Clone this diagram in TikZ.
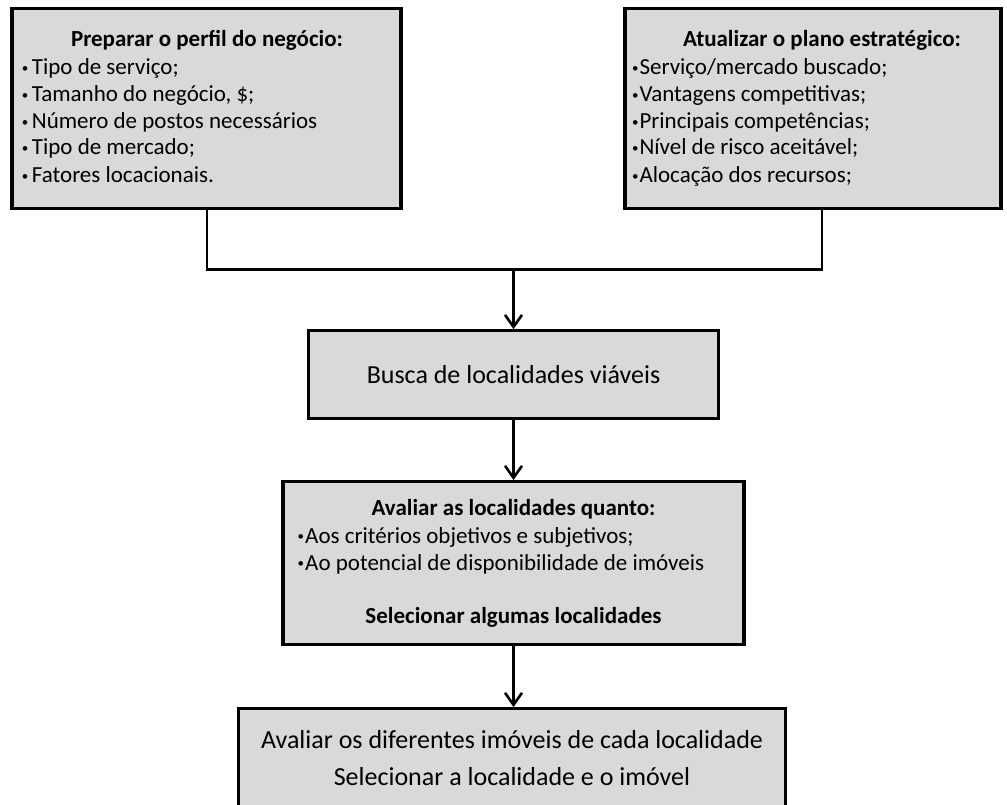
\documentclass[tikz,border=0pt]{standalone}
\usepackage{fontspec}
\setmainfont{Carlito}
\usetikzlibrary{arrows.meta}
\definecolor{boxgray}{HTML}{D9D9D9}
% small bullet set to the left of the item text; #1 is the gap before the text
\newcommand\itembullet[1]{\llap{\raisebox{2.2pt}{\fontsize{13}{13}\selectfont •}\hspace{#1}}}
\begin{document}
\begin{tikzpicture}[x=1pt,y=-1pt,
  box/.style={draw=black,fill=boxgray,line width=3.3pt,inner sep=0pt},
  link/.style={line width=2.6pt},
  flow/.style={link,-{Straight Barb[length=12pt,width=17pt]}},
  item/.style={anchor=base west,inner sep=0pt,font=\fontsize{23}{27}\selectfont},
  head/.style={anchor=base,inner sep=0pt,font=\fontsize{23}{27}\selectfont\bfseries},
  big/.style={anchor=base,inner sep=0pt,font=\fontsize{26}{31}\selectfont}]
\useasboundingbox (0,0) rectangle (1007,805);
\clip (0,0) rectangle (1007,805);

% boxes
\node[box,minimum width=389pt,minimum height=200pt] (perfil) at (206.5,108.3) {};
\node[box,minimum width=376pt,minimum height=200pt] (plano) at (813,108.3) {};
\node[box,minimum width=410pt,minimum height=88pt] (busca) at (513.5,374.8) {};
\node[box,minimum width=461pt,minimum height=163pt] (avaliar) at (513.5,563.2) {};
\node[box,minimum width=547pt,minimum height=130pt] (imovel) at (512,773.7) {};

% text of the left box
\node[head] (t1) at (207,46.7) {Preparar o perfil do negócio:};
\node[item] (l1) at (31.7,75) {\itembullet{3.5pt}Tipo de serviço;};
\node[item] (l2) at (31.7,101.7) {\itembullet{3.5pt}Tamanho do negócio, \$;};
\node[item] (l3) at (31.7,128.3) {\itembullet{3.5pt}Número de postos necessários};
\node[item] (l4) at (31.7,155) {\itembullet{3.5pt}Tipo de mercado;};
\node[item] (l5) at (31.7,182.7) {\itembullet{3.5pt}Fatores locacionais.};

% text of the right box
\node[head] (t2) at (822,46.7) {Atualizar o plano estratégico:};
\node[item] (r1) at (639.3,75) {\itembullet{1pt}Serviço/mercado buscado;};
\node[item] (r2) at (639.3,101.7) {\itembullet{1pt}Vantagens competitivas;};
\node[item] (r3) at (639.3,128.3) {\itembullet{1pt}Principais competências;};
\node[item] (r4) at (639.3,155) {\itembullet{1pt}Nível de risco aceitável;};
\node[item] (r5) at (639.3,182.7) {\itembullet{1pt}Alocação dos recursos;};

% middle boxes
\node[big] (tb) at (513.5,383) {Busca de localidades viáveis};
\node[head] (ta) at (513.5,515) {Avaliar as localidades quanto:};
\node[item] (a1) at (305,543) {\itembullet{1pt}Aos critérios objetivos e subjetivos;};
\node[item] (a2) at (305,570) {\itembullet{1pt}Ao potencial de disponibilidade de imóveis};
\node[head] (ts) at (513.5,623) {Selecionar algumas localidades};

% last box
\node[big] (ti1) at (512,748) {Avaliar os diferentes imóveis de cada localidade};
\node[big] (ti2) at (512,785) {Selecionar a localidade e o imóvel};

% connectors
\coordinate (ldrop) at (207,269.5);
\coordinate (rdrop) at (822,269.5);
\coordinate (join) at (513.5,269.5);
\draw[link] (perfil.south -| ldrop) -- (ldrop) -- (rdrop) -- (plano.south -| rdrop);
\draw[flow] (join) -- (busca.north);
\draw[flow] (busca.south) -- (avaliar.north);
\draw[flow] (avaliar.south) -- (avaliar.south |- imovel.north);
\end{tikzpicture}
\end{document}
